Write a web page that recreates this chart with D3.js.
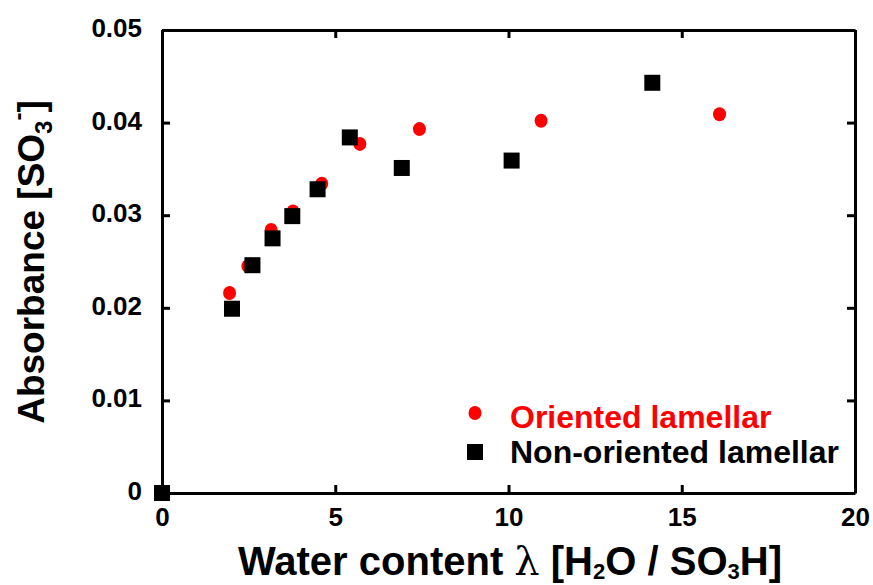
<!DOCTYPE html>
<html>
<head>
<meta charset="utf-8">
<script src="https://cdn.jsdelivr.net/npm/d3@7"></script>
<style>
  body { margin: 0; background: #fff; }
  text { font-family: "Liberation Sans", Arial, sans-serif; font-weight: bold; }
</style>
</head>
<body>
<div id="chart"></div>
<script>
// water content lambda vs absorbance
const orientedX = [0, 1.95, 2.48, 3.15, 3.78, 4.61, 5.71, 7.43, 10.94, 16.09];
const orientedY = [0, 0.0216, 0.0245, 0.0284, 0.0304, 0.0334, 0.0377, 0.0393, 0.0402, 0.0409];
const nonOrientedX = [0, 2.02, 2.61, 3.19, 3.76, 4.49, 5.42, 6.92, 10.09, 14.15];
const nonOrientedY = [0, 0.0199, 0.0246, 0.0275, 0.0299, 0.0328, 0.0384, 0.0351, 0.0359, 0.0443];
const xTicks = [0, 5, 10, 15, 20];
const yTicks = [0, 0.01, 0.02, 0.03, 0.04, 0.05];
const legendLabels = ['Oriented lamellar', 'Non-oriented lamellar'];

const margin = {top: 30, right: 18, bottom: 92, left: 162};
const width = 873, height = 585;
const visWidth = width - margin.left - margin.right;
const visHeight = height - margin.top - margin.bottom;

const svg = d3.select('#chart').append('svg')
    .attr('width', width)
    .attr('height', height);

const g = svg.append('g')
    .attr('transform', `translate(${margin.left}, ${margin.top})`);

const x = d3.scaleLinear().domain([0, 20]).range([0, visWidth]);
const y = d3.scaleLinear().domain([0, 0.05]).range([visHeight, 0]);

const tickFmt = d => d === 0 ? '0' : d3.format('.2f')(d);

// axes, ticks point inward on all sides
const xAxis = g.append('g')
    .attr('transform', `translate(0, ${visHeight})`)
    .call(d3.axisBottom(x).tickValues(xTicks).tickSizeInner(-8).tickSizeOuter(0).tickPadding(15).tickFormat(d3.format('d')));
const xTop = g.append('g')
    .call(d3.axisTop(x).tickValues(xTicks).tickSizeInner(-8).tickSizeOuter(0).tickFormat(''));
const yAxis = g.append('g')
    .call(d3.axisLeft(y).tickValues(yTicks).tickSizeInner(-8).tickSizeOuter(0).tickPadding(20).tickFormat(tickFmt));
const yRight = g.append('g')
    .attr('transform', `translate(${visWidth}, 0)`)
    .call(d3.axisRight(y).tickValues(yTicks).tickSizeInner(-8).tickSizeOuter(0).tickFormat(''));

[xAxis, xTop, yAxis, yRight].forEach(a => {
  a.select('.domain').attr('stroke', '#000').attr('stroke-width', 3);
  a.selectAll('.tick line').attr('stroke', '#000').attr('stroke-width', 3);
  a.selectAll('.tick text').attr('fill', '#000').style('font-size', '26px');
});
yAxis.selectAll('.tick text').attr('dy', '0.25em');

// points
const oriented = orientedX.map((v, i) => ({x: v, y: orientedY[i]}));
const nonOriented = nonOrientedX.map((v, i) => ({x: v, y: nonOrientedY[i]}));

g.selectAll('.oriented')
  .data(oriented)
  .join('ellipse')
    .attr('class', 'oriented')
    .attr('cx', d => x(d.x))
    .attr('cy', d => y(d.y))
    .attr('rx', 6.5)
    .attr('ry', 7)
    .attr('fill', '#ff0000');

g.selectAll('.nonoriented')
  .data(nonOriented)
  .join('rect')
    .attr('class', 'nonoriented')
    .attr('x', d => x(d.x) - 8)
    .attr('y', d => y(d.y) - 8)
    .attr('width', 16)
    .attr('height', 16)
    .attr('fill', '#000');

// legend
const legend = svg.append('g').attr('transform', 'translate(475, 413)');
legend.append('ellipse').attr('cx', 0).attr('cy', 0).attr('rx', 6.5).attr('ry', 7).attr('fill', '#ff0000');
legend.append('text').attr('x', 35).attr('y', 15).attr('fill', '#ff0000')
    .style('font-size', '32px').text(legendLabels[0]);
legend.append('rect').attr('x', -8).attr('y', 31).attr('width', 16).attr('height', 16).attr('fill', '#000');
legend.append('text').attr('x', 35).attr('y', 50).attr('fill', '#000')
    .style('font-size', '32px').text(legendLabels[1]);

// axis titles
const xt = svg.append('text')
    .attr('x', 510)
    .attr('y', 575)
    .attr('text-anchor', 'middle')
    .style('font-size', '40px');
xt.append('tspan').text('Water content ');
xt.append('tspan').style('font-family', '"DejaVu Serif", serif').style('font-weight', 'normal').text('λ');
xt.append('tspan').text('  [H');
xt.append('tspan').attr('dy', 4).style('font-size', '22px').text('2');
xt.append('tspan').attr('dy', -4).text('O / SO');
xt.append('tspan').attr('dy', 4).style('font-size', '22px').text('3');
xt.append('tspan').attr('dy', -4).text('H]');

const yt = svg.append('text')
    .attr('transform', 'translate(44, 262) rotate(-90)')
    .attr('text-anchor', 'middle')
    .style('font-size', '37px');
yt.append('tspan').text('Absorbance [SO');
yt.append('tspan').attr('dy', 8).style('font-size', '24px').text('3');
yt.append('tspan').attr('dy', -26).style('font-size', '24px').text('-');
yt.append('tspan').attr('dy', 18).text(']');
</script>
</body>
</html>
